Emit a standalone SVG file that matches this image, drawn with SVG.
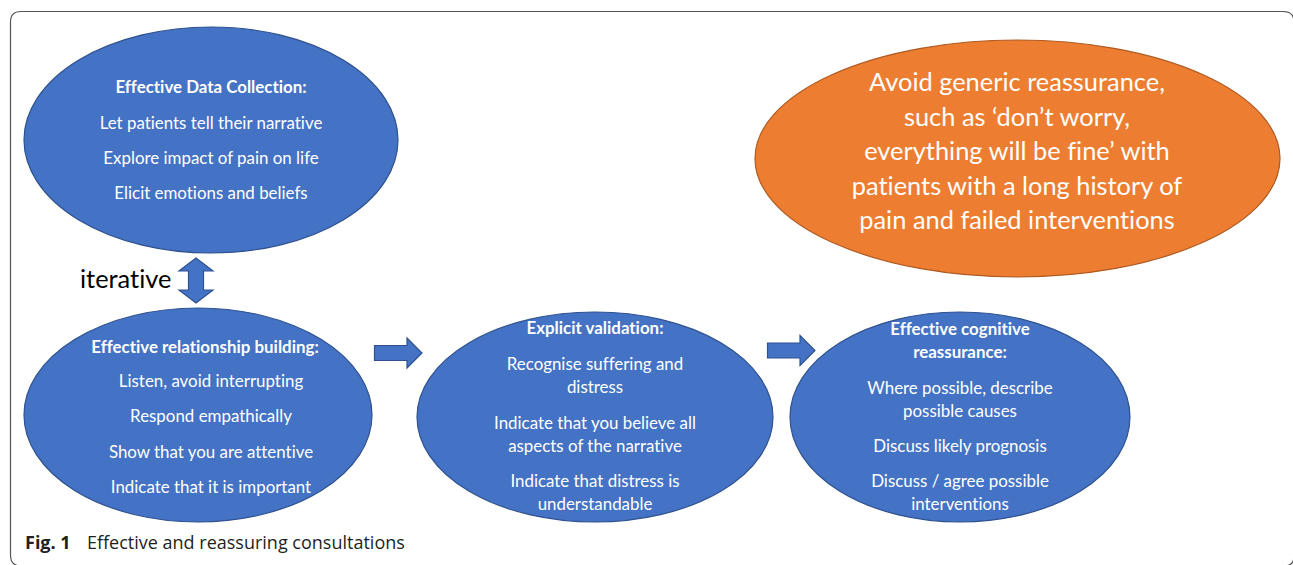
<svg xmlns="http://www.w3.org/2000/svg" width="1293" height="565" viewBox="0 0 1293 565">
  <style>
    .blue { fill: #4472C4; stroke: #2F528F; stroke-width: 1.2; }
    .orange { fill: #ED7D31; stroke: #AE5A21; stroke-width: 1.2; }
    .t { font-family: Lato, "Open Sans", sans-serif; font-size: 16.9px; fill: #ffffff; text-anchor: middle; font-variant-ligatures: none; font-feature-settings: "liga" 0, "dlig" 0; }
    .b { font-weight: bold; }
    .big { font-family: Lato, "Open Sans", sans-serif; font-size: 25.4px; fill: #ffffff; text-anchor: middle; font-variant-ligatures: none; font-feature-settings: "liga" 0, "dlig" 0; }
    .lbl { font-family: Lato, "Open Sans", sans-serif; font-size: 25.4px; fill: #000000; font-variant-ligatures: none; font-feature-settings: "liga" 0, "dlig" 0; }
    .cap { font-family: "Open Sans", "Noto Sans", sans-serif; font-size: 18px; fill: #231f20; }
  </style>

  <!-- figure frame (right and bottom edges run just past the canvas) -->
  <path d="M10.5,555 L10.5,22 Q10.5,11.5 21,11.5 L1283,11.5 Q1294,11.5 1294,22 L1294,556 Q1294,566 1284,566 L21,566 Q10.5,566 10.5,555 Z" fill="#ffffff" stroke="#555555" stroke-width="1.2"/>

  <g id="connectors">
    <path class="blue" d="M196,258 L213,271 L203.5,271 L203.5,290 L213,290 L196,303 L179,290 L188.5,290 L188.5,271 L179,271 Z"/>
    <path class="blue" d="M374.5,345.5 L407,345.5 L407,338 L422,353 L407,368 L407,360.5 L374.5,360.5 Z"/>
    <path class="blue" d="M767.5,343 L800,343 L800,335.5 L815,350.5 L800,365.5 L800,358 L767.5,358 Z"/>
    <text class="lbl" x="80" y="288">iterative</text>
  </g>

  <g id="data-collection">
    <ellipse class="blue" cx="211" cy="140" rx="187" ry="113"/>
    <text class="t b" x="211" y="93">Effective Data Collection:</text>
    <text class="t" x="211" y="129">Let patients tell their narrative</text>
    <text class="t" x="211" y="164">Explore impact of pain on life</text>
    <text class="t" x="211" y="199">Elicit emotions and beliefs</text>
  </g>

  <g id="avoid-generic">
    <ellipse class="orange" cx="1017.5" cy="158.5" rx="262.5" ry="118.5"/>
    <text class="big" x="1017" y="91">Avoid generic reassurance,</text>
    <text class="big" x="1017" y="126">such as ‘don’t worry,</text>
    <text class="big" x="1017" y="160">everything will be fine’ with</text>
    <text class="big" x="1017" y="195">patients with a long history of</text>
    <text class="big" x="1017" y="229">pain and failed interventions</text>
  </g>

  <g id="relationship-building">
    <ellipse class="blue" cx="198" cy="415" rx="174" ry="107"/>
    <text class="t b" x="205" y="353">Effective relationship building:</text>
    <text class="t" x="211" y="387">Listen, avoid interrupting</text>
    <text class="t" x="211" y="422">Respond empathically</text>
    <text class="t" x="211" y="458">Show that you are attentive</text>
    <text class="t" x="211" y="493">Indicate that it is important</text>
  </g>

  <g id="explicit-validation">
    <ellipse class="blue" cx="595" cy="417" rx="178" ry="105"/>
    <text class="t b" x="595" y="334">Explicit validation:</text>
    <text class="t" x="595" y="370">Recognise suffering and</text>
    <text class="t" x="595" y="393">distress</text>
    <text class="t" x="595" y="429">Indicate that you believe all</text>
    <text class="t" x="595" y="452">aspects of the narrative</text>
    <text class="t" x="595" y="487">Indicate that distress is</text>
    <text class="t" x="595" y="510">understandable</text>
  </g>

  <g id="cognitive-reassurance">
    <ellipse class="blue" cx="960" cy="417" rx="170" ry="105"/>
    <text class="t b" x="960" y="335">Effective cognitive</text>
    <text class="t b" x="960" y="358">reassurance:</text>
    <text class="t" x="960" y="394">Where possible, describe</text>
    <text class="t" x="960" y="417">possible causes</text>
    <text class="t" x="960" y="452">Discuss likely prognosis</text>
    <text class="t" x="960" y="487">Discuss / agree possible</text>
    <text class="t" x="960" y="510">interventions</text>
  </g>

  <text class="cap" y="549"><tspan x="25" font-weight="bold">Fig. 1</tspan><tspan x="87">Effective and reassuring consultations</tspan></text>
</svg>
